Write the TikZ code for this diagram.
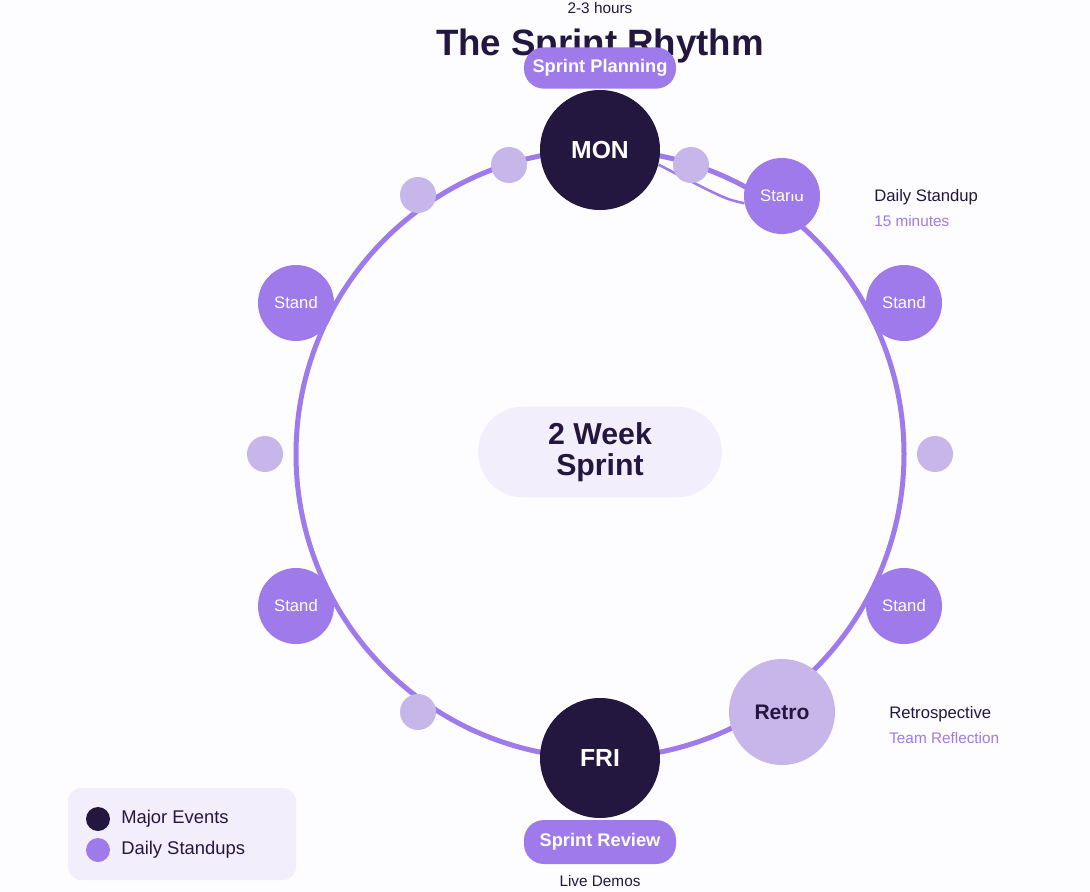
\documentclass[tikz,border=0pt]{standalone}
\usepackage{fontspec}
\setmainfont{Liberation Sans}
\usepackage{xcolor}

\definecolor{sprdark}{HTML}{24173F}
\definecolor{sprpurple}{HTML}{9F7AEA}
\definecolor{sprlight}{HTML}{C7B6EA}
\definecolor{sprpale}{HTML}{F3EEFB}
\definecolor{sprbg}{HTML}{FDFCFE}

\begin{document}
\begin{tikzpicture}[x=0.75pt,y=0.75pt,yscale=-1,xscale=1,
  major/.style={circle,fill=sprdark,text=white,inner sep=0pt,minimum size=90pt,font=\bfseries\fontsize{18.5}{20}\selectfont},
  standnode/.style={circle,fill=sprpurple,text=white,inner sep=0pt,minimum size=57pt,font=\fontsize{12.5}{14}\selectfont},
  dotnode/.style={circle,fill=sprlight,inner sep=0pt,minimum size=27pt},
  pill/.style={rectangle,rounded corners=15pt,fill=sprpurple,text=white,inner sep=0pt,minimum width=114pt,minimum height=31pt,font=\bfseries\fontsize{13.7}{15}\selectfont},
  lbl/.style={anchor=west,inner sep=0pt,text=sprdark,font=\fontsize{12.5}{14}\selectfont},
  sublbl/.style={anchor=west,inner sep=0pt,text=sprpurple,font=\fontsize{11.5}{13}\selectfont}]
%set diagram: 1090 x 892
\useasboundingbox (0,0) rectangle (1090,892);
\fill[sprbg] (0,0) rectangle (1090,892);

%Ring
\draw[sprpurple,line width=3.75pt] (600,454) circle (304);

%Major events
\node[major] (mon) at (600,150) {MON};
\node[major] (fri) at (600,758) {FRI};

%Standups
\node[standnode] (standA) at (782,196) {Stand};
\node[standnode] (standB) at (904,303) {Stand};
\node[standnode] (standC) at (904,606) {Stand};
\node[standnode] (standD) at (296,606) {Stand};
\node[standnode] (standE) at (296,303) {Stand};
%clipped top of the first label
\fill[sprpurple] (790,184) rectangle (809,194);

%Link MON - Stand
\draw[sprpurple,line width=1.9pt] (mon.-14) .. controls (725,199) .. (standA.191);

%Small markers
\node[dotnode] (dotA) at (691,165) {};
\node[dotnode] (dotB) at (509,165) {};
\node[dotnode] (dotC) at (418,195) {};
\node[dotnode] (dotD) at (265,454) {};
\node[dotnode] (dotE) at (935,454) {};
\node[dotnode] (dotF) at (418,712) {};

%Retro
\node[circle,fill=sprlight,text=sprdark,inner sep=0pt,minimum size=79.5pt,font=\bfseries\fontsize{15.8}{17}\selectfont] (retro) at (782,712) {Retro};

%Centre
\node[rectangle,rounded corners=34pt,fill=sprpale,text=sprdark,minimum width=183pt,minimum height=68pt,inner sep=0pt,align=center,font=\bfseries\fontsize{22.7}{23.5}\selectfont] (centre) at (600,452) {2 Week\\Sprint};

% Text Node
\node[inner sep=0pt,text=sprdark,font=\fontsize{11.5}{13}\selectfont] (hours) at (600,8) {2-3 hours};
% Text Node
\node[inner sep=0pt,text=sprdark,font=\bfseries\fontsize{27.5}{30}\selectfont] (title) at (600,46) {The Sprint Rhythm};
\node[pill] (planning) at (600,68) {Sprint Planning};
\node[pill,minimum height=33pt] (review) at (600,842) {Sprint Review};
% Text Node
\node[inner sep=0pt,text=sprdark,font=\fontsize{11.5}{13}\selectfont] (demos) at (600,881) {Live Demos};

% Text Node
\node[lbl] (dailylbl) at (874,197) {Daily Standup};
\node[sublbl] (dailysub) at (874,221) {15 minutes};
% Text Node
\node[lbl] (retrolbl) at (889,714) {Retrospective};
\node[sublbl] (retrosub) at (889,738) {Team Reflection};

%Legend
\fill[sprpale,rounded corners=10pt] (68,788) rectangle (296,880);
\node[circle,fill=sprdark,inner sep=0pt,minimum size=18pt] (legA) at (98,819) {};
\node[circle,fill=sprpurple,inner sep=0pt,minimum size=18pt] (legB) at (98,850) {};
\node[lbl,font=\fontsize{13.8}{16}\selectfont] (legAtxt) at (121,819) {Major Events};
\node[lbl,font=\fontsize{13.8}{16}\selectfont] (legBtxt) at (121,850) {Daily Standups};

\end{tikzpicture}
\end{document}
